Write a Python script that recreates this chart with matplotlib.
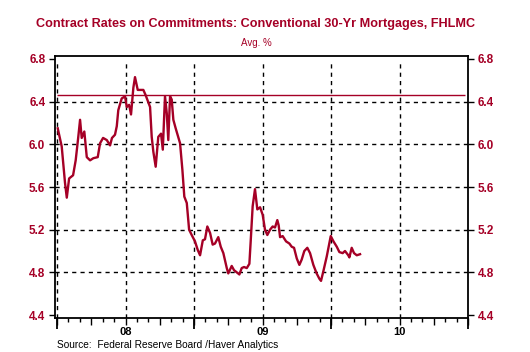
import matplotlib
matplotlib.use("Agg")
import matplotlib.pyplot as plt
import matplotlib.transforms as mtransforms

plt.rcParams['font.family'] = ['Liberation Sans', 'DejaVu Sans']

red = '#A50026'

# weekly contract rate (decimal year, %)
years = [2008.005, 2008.034, 2008.058, 2008.071, 2008.088, 2008.117, 2008.136, 2008.155,
         2008.168, 2008.180, 2008.199, 2008.217, 2008.241, 2008.265, 2008.297, 2008.314,
         2008.336, 2008.363, 2008.387, 2008.401, 2008.423, 2008.436, 2008.447, 2008.472,
         2008.496, 2008.509, 2008.526, 2008.540, 2008.557, 2008.569, 2008.589, 2008.630,
         2008.647, 2008.679, 2008.691, 2008.703, 2008.720, 2008.739, 2008.759, 2008.772,
         2008.788, 2008.801, 2008.812, 2008.825, 2008.837, 2008.849, 2008.866, 2008.898,
         2008.915, 2008.929, 2008.947, 2008.964, 2008.983, 2009.007, 2009.027, 2009.044,
         2009.064, 2009.080, 2009.097, 2009.117, 2009.136, 2009.153, 2009.177, 2009.195,
         2009.214, 2009.239, 2009.250, 2009.275, 2009.292, 2009.312, 2009.331, 2009.348,
         2009.365, 2009.385, 2009.404, 2009.414, 2009.428, 2009.445, 2009.462, 2009.482,
         2009.501, 2009.518, 2009.535, 2009.555, 2009.574, 2009.591, 2009.608, 2009.618,
         2009.628, 2009.647, 2009.672, 2009.696, 2009.713, 2009.730, 2009.750, 2009.769,
         2009.786, 2009.805, 2009.827, 2009.847, 2009.871, 2009.895, 2009.915, 2009.927,
         2009.944, 2009.969, 2009.998, 2010.018, 2010.042, 2010.061, 2010.085, 2010.102,
         2010.126, 2010.134, 2010.151, 2010.168, 2010.188, 2010.212]
rates = [6.15, 5.98, 5.64, 5.50, 5.68, 5.71, 5.85, 6.07,
         6.23, 6.06, 6.12, 5.88, 5.85, 5.87, 5.88, 6.01,
         6.06, 6.04, 5.99, 6.06, 6.09, 6.17, 6.32, 6.43,
         6.45, 6.35, 6.37, 6.28, 6.53, 6.63, 6.51, 6.51,
         6.46, 6.35, 6.07, 5.93, 5.79, 6.07, 6.10, 5.95,
         6.45, 6.29, 6.04, 6.45, 6.42, 6.23, 6.15, 6.01,
         5.76, 5.51, 5.45, 5.20, 5.15, 5.09, 5.01, 4.96,
         5.10, 5.11, 5.23, 5.17, 5.06, 5.07, 5.13, 5.04,
         4.98, 4.84, 4.79, 4.86, 4.82, 4.80, 4.78, 4.84,
         4.85, 4.84, 4.88, 5.10, 5.42, 5.58, 5.39, 5.41,
         5.34, 5.20, 5.15, 5.20, 5.23, 5.22, 5.29, 5.24,
         5.13, 5.14, 5.09, 5.07, 5.04, 5.03, 4.93, 4.87,
         4.92, 5.00, 5.03, 4.98, 4.87, 4.79, 4.74, 4.72,
         4.81, 4.95, 5.14, 5.09, 5.04, 4.99, 4.98, 5.00,
         4.96, 4.94, 5.03, 4.98, 4.96, 4.97]
avg_rate = 6.46
year_labels = ['08', '09', '10']
yticks = [4.4, 4.8, 5.2, 5.6, 6.0, 6.4, 6.8]

fig = plt.figure(figsize=(5.3, 3.52), dpi=100)
ax = fig.add_axes([55 / 530, 1 - 318 / 352, 413 / 530, 262 / 352])

ax.set_xlim(2007.985, 2011.0)
ax.set_ylim(4.372, 6.828)

# grid
for g in [2008, 2008.5, 2009, 2009.5, 2010, 2010.5]:
    ax.axvline(g, ymax=0.985, color='black', lw=1, ls=(0, (3, 3)), zorder=1)
for g in [4.8, 5.2, 5.6, 6.0, 6.4]:
    ax.axhline(g, color='black', lw=1, ls=(0, (3, 3)), zorder=1)

ax.hlines(avg_rate, 2008, 2010.98, color=red, lw=1, zorder=2)
ax.plot(years, rates, color=red, lw=1.7, zorder=3)

for s in ax.spines.values():
    s.set_linewidth(1.3)

# y axis both sides
ax.set_yticks(yticks)
ax.set_yticklabels([f'{v:.1f}' for v in yticks])
ax.tick_params(axis='y', which='both', left=True, right=True, labelleft=True,
               labelright=True, direction='out', length=4, width=1,
               labelsize=8.5, labelcolor=red, pad=3)
for lab in ax.get_yticklabels():
    lab.set_fontweight('bold')

# x axis: months minor, quarters major, years via secondary axis
ax.set_xticks([2008 + q / 4 for q in range(13)])
ax.set_xticks([2008 + m / 12 for m in range(37)], minor=True)
ax.set_xticklabels([])
ax.tick_params(axis='x', which='major', length=5, width=1, direction='out')
ax.tick_params(axis='x', which='minor', length=3, width=1, direction='out')
sec = ax.secondary_xaxis('bottom')
sec.set_xticks([2008, 2009, 2010, 2011])
sec.set_xticklabels([])
sec.tick_params(length=8, width=1.3)
sec.spines['bottom'].set_visible(False)

trans = mtransforms.blended_transform_factory(ax.transData, fig.transFigure)
for i, lab in enumerate(year_labels):
    ax.text(2008.5 + i, 1 - 332 / 352, lab, transform=trans, ha='center', va='center',
            fontsize=8, fontweight='bold', color='black')

fig.text(256 / 530, 1 - 24 / 352,
         'Contract Rates on Commitments: Conventional 30-Yr Mortgages, FHLMC',
         ha='center', va='center', fontsize=9.1, fontweight='bold', color=red)
fig.text(256 / 530, 1 - 43 / 352, 'Avg. %', ha='center', va='center',
         fontsize=7, color=red)
fig.text(57 / 530, 1 - 345 / 352, 'Source:  Federal Reserve Board /Haver Analytics',
         ha='left', va='center', fontsize=7.3, color='black')

fig.savefig('out.png', dpi=100)
